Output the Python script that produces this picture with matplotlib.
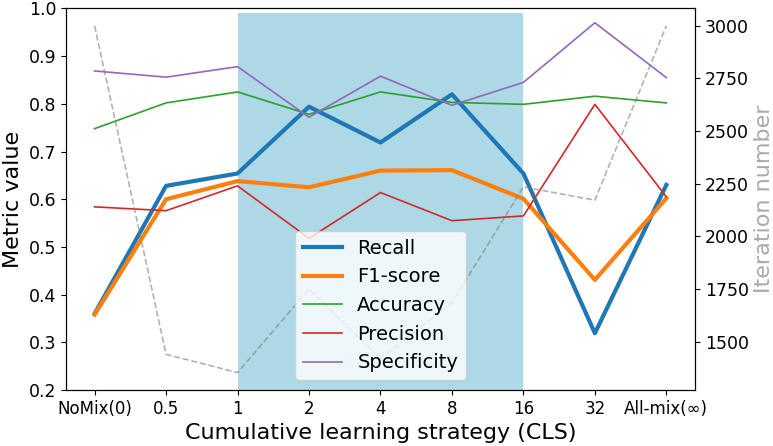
import matplotlib
matplotlib.use("Agg")
import matplotlib.pyplot as plt

# CLS settings on the x axis
strategies = ["NoMix(0)", "0.5", "1", "2", "4", "8", "16", "32", "All-mix(\u221e)"]

recall = [0.360, 0.628, 0.654, 0.794, 0.719, 0.820, 0.654, 0.319, 0.630]
f1_score = [0.358, 0.600, 0.638, 0.625, 0.660, 0.661, 0.601, 0.431, 0.602]
accuracy = [0.748, 0.802, 0.825, 0.778, 0.825, 0.803, 0.799, 0.816, 0.802]
precision = [0.584, 0.576, 0.628, 0.518, 0.614, 0.555, 0.565, 0.799, 0.605]
specificity = [0.869, 0.856, 0.878, 0.772, 0.858, 0.797, 0.845, 0.970, 0.855]

# iterations (right axis)
iterations = [3000, 1440, 1353, 1750, 1420, 1685, 2235, 2172, 3000]

# shaded region: from "1" to "16"
span_start = 2
span_end = 6

x = list(range(len(strategies)))

fig, ax = plt.subplots(figsize=(7.73, 4.46), dpi=100)
fig.subplots_adjust(left=0.0854, right=0.899, bottom=0.1256, top=0.981)

ax.axvspan(span_start, span_end, 0, (0.99 - 0.2) / 0.8, color="lightblue", lw=0)

ax.plot(x, recall, color="tab:blue", lw=3, label="Recall")
ax.plot(x, f1_score, color="tab:orange", lw=3, label="F1-score")
ax.plot(x, accuracy, color="tab:green", lw=1.2, label="Accuracy")
ax.plot(x, precision, color="tab:red", lw=1.2, label="Precision")
ax.plot(x, specificity, color="tab:purple", lw=1.2, label="Specificity")

ax.set_ylim(0.2, 1.0)
ax.set_xticks(x)
ax.set_xticklabels(strategies, fontsize=12)
ax.tick_params(axis="y", labelsize=12.5)
ax.set_ylabel("Metric value", fontsize=16)
ax.set_xlabel("Cumulative learning strategy (CLS)", fontsize=16)

ax2 = ax.twinx()
ax2.plot(x, iterations, color="gray", ls="--", lw=1.2, alpha=0.6)
ax2.set_yticks([1500, 1750, 2000, 2250, 2500, 2750, 3000])
ax2.tick_params(axis="y", labelsize=12.5)
ax2.set_ylabel("Iteration number", fontsize=16, color="darkgray")

handles, labels = ax.get_legend_handles_labels()
ax2.legend(handles, labels, loc="lower center", fontsize=14)

plt.savefig("out.png", dpi=100)
